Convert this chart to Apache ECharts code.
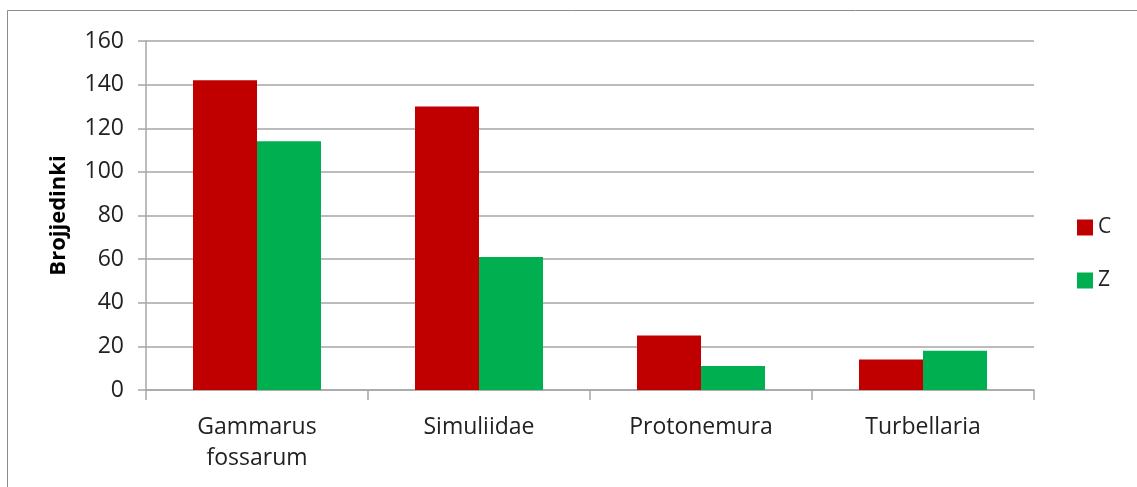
<!DOCTYPE html>
<html>
<head>
<meta charset="utf-8">
<script src="https://cdn.jsdelivr.net/npm/echarts@6/dist/echarts.min.js"></script>
<style>
  html, body { margin: 0; padding: 0; background: #fff; }
  #chart { width: 1137px; height: 487px; }
</style>
</head>
<body>
<div id="chart"></div>
<script>
const categories = ['Gammarus\nfossarum', 'Simuliidae', 'Protonemura', 'Turbellaria'];
const valuesC = [142, 130, 25, 14];
const valuesZ = [114, 61, 11, 18];
const yTicks = { min: 0, max: 160, interval: 20 };

const font = '"Open Sans", sans-serif';
const gridGray = '#a6a6a6';

const chart = echarts.init(document.getElementById('chart'));

chart.setOption({
  animation: false,
  graphic: [{
    type: 'rect',
    shape: { x: 7.5, y: 10.5, width: 1200, height: 600 },
    style: { fill: 'none', stroke: '#8c8c8c', lineWidth: 1 }
  }],
  grid: { left: 146, right: 103, top: 41, bottom: 97 },
  legend: {
    orient: 'vertical',
    left: 1072,
    top: 212,
    itemWidth: 16,
    itemHeight: 16,
    itemGap: 32,
    itemStyle: { borderWidth: 0 },
    icon: 'rect',
    textStyle: { fontFamily: font, fontSize: 21, color: '#222' },
    data: ['C', 'Z']
  },
  xAxis: {
    type: 'category',
    data: categories,
    axisLine: { lineStyle: { color: gridGray, width: 1.5 } },
    axisTick: { show: true, length: 10, alignWithLabel: false, lineStyle: { color: gridGray, width: 1.5 } },
    axisLabel: {
      margin: 22,
      fontFamily: font,
      fontSize: 23,
      lineHeight: 31,
      color: '#222',
      interval: 0
    }
  },
  yAxis: {
    type: 'value',
    min: yTicks.min,
    max: yTicks.max,
    interval: yTicks.interval,
    name: 'Brojjedinki',
    nameLocation: 'middle',
    nameGap: 76,
    nameTextStyle: { fontFamily: font, fontSize: 22, fontWeight: 'bold', color: '#000' },
    axisLine: { show: true, lineStyle: { color: gridGray, width: 1.5 } },
    axisTick: { show: true, length: 8, lineStyle: { color: gridGray, width: 1.5 } },
    axisLabel: { margin: 22, fontFamily: font, fontSize: 23, color: '#222' },
    splitLine: { lineStyle: { color: gridGray, width: 1.5 } }
  },
  series: [
    {
      name: 'C',
      type: 'bar',
      data: valuesC,
      barWidth: 64,
      barGap: '0%',
      itemStyle: { color: '#c00000' }
    },
    {
      name: 'Z',
      type: 'bar',
      data: valuesZ,
      barWidth: 64,
      barGap: '0%',
      itemStyle: { color: '#00b050' }
    }
  ]
});
</script>
</body>
</html>
